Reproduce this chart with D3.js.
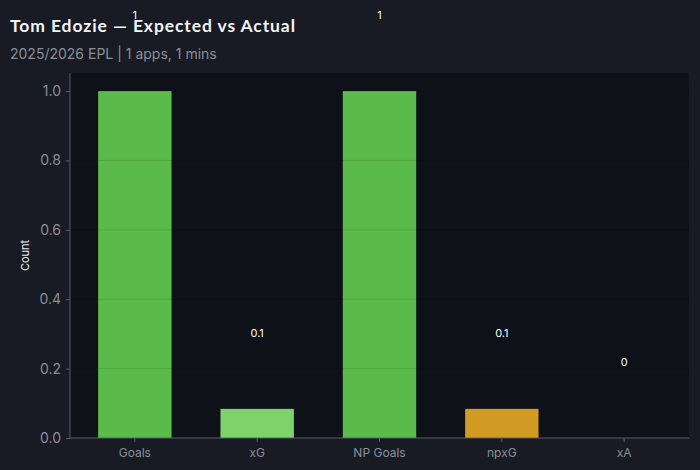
<!DOCTYPE html>
<html><head><meta charset="utf-8">
<script src="https://cdn.jsdelivr.net/npm/d3@7"></script>
<style>
html,body{margin:0;padding:0;background:#181b23;}
svg{display:block;}
</style></head>
<body>
<svg id="chart" width="700" height="470"></svg>
<script>
const categories = ["Goals", "xG", "NP Goals", "npxG", "xA"];
const values = [1, 0.084, 1, 0.084, 0];
const labels = ["1", "0.1", "1", "0.1", "0"];
const barColors = ["#5aba4a", "#7dd36a", "#5aba4a", "#d19a22", "#5aba4a"];
const yTicks = [0, 0.2, 0.4, 0.6, 0.8, 1.0];

const svg = d3.select("#chart");
const W = 700, H = 470;
const m = {left: 70, right: 11, top: 73, bottom: 32};

svg.append("rect").attr("width", W).attr("height", H).attr("fill", "#181b23");

const x = d3.scaleBand().domain(categories).range([m.left, W - m.right]).paddingInner(0.4).paddingOuter(0.23);
const y = d3.scaleLinear().domain([0, 1.052]).range([H - m.bottom, m.top]);

svg.append("rect").attr("x", m.left).attr("y", m.top)
  .attr("width", W - m.right - m.left).attr("height", H - m.bottom - m.top)
  .attr("fill", "#0e1118");

svg.selectAll("rect.bar").data(categories).join("rect").attr("class", "bar")
  .attr("x", d => x(d)).attr("width", x.bandwidth())
  .attr("y", (d, i) => y(values[i])).attr("height", (d, i) => y(0) - y(values[i]))
  .attr("fill", (d, i) => barColors[i]);

// grid lines on top
svg.selectAll("line.grid").data(yTicks.slice(1)).join("line").attr("class", "grid")
  .attr("x1", m.left).attr("x2", W - m.right)
  .attr("y1", d => y(d)).attr("y2", d => y(d))
  .attr("stroke", "rgba(0,0,0,0.1)").attr("stroke-width", 1);

svg.selectAll("text.val").data(categories).join("text").attr("class", "val")
  .attr("x", d => x(d) + x.bandwidth() / 2)
  .attr("y", (d, i) => y(values[i]) - 76)
  .attr("text-anchor", "middle").attr("dominant-baseline", "central")
  .attr("fill", "#ffffff").attr("font-family", "Inter, sans-serif").attr("font-size", 11)
  .text((d, i) => labels[i]);

const yAxis = svg.append("g").attr("transform", `translate(${m.left},0)`)
  .call(d3.axisLeft(y).tickValues(yTicks).tickFormat(d3.format(".1f")).tickSize(4).tickPadding(5));
const xAxis = svg.append("g").attr("transform", `translate(0,${H - m.bottom})`)
  .call(d3.axisBottom(x).tickSize(4).tickPadding(6).tickSizeOuter(0));
[yAxis, xAxis].forEach(g => {
  g.selectAll("path.domain").attr("stroke", "#5a5f6a");
  g.selectAll(".tick line").attr("stroke", "#5a5f6a");
  g.selectAll(".tick text").attr("fill", "#8a8f99").attr("font-family", "Inter, sans-serif");
});
yAxis.select("path.domain").attr("d", `M0,${y(0)}V${m.top}`);
xAxis.select("path.domain").attr("d", `M${m.left},0H${W - m.right}`);
yAxis.selectAll(".tick text").attr("font-size", 14);
xAxis.selectAll(".tick text").attr("font-size", 12);

svg.append("text").attr("transform", `translate(29,${(m.top + H - m.bottom) / 2}) rotate(-90)`)
  .attr("text-anchor", "middle").attr("fill", "#e8eaee")
  .attr("font-family", "Inter, sans-serif").attr("font-size", 11).text("Count");

svg.append("text").attr("x", 10).attr("y", 32)
  .attr("fill", "#f2f3f5").attr("font-family", "Lato, sans-serif").attr("font-weight", 700)
  .attr("font-size", 17.5).attr("textLength", 285).attr("lengthAdjust", "spacing")
  .text("Tom Edozie — Expected vs Actual");
svg.append("text").attr("x", 10).attr("y", 59)
  .attr("fill", "#8a8f99").attr("font-family", "Inter, sans-serif").attr("font-size", 14)
  .text("2025/2026 EPL | 1 apps, 1 mins");
</script>
</body></html>
